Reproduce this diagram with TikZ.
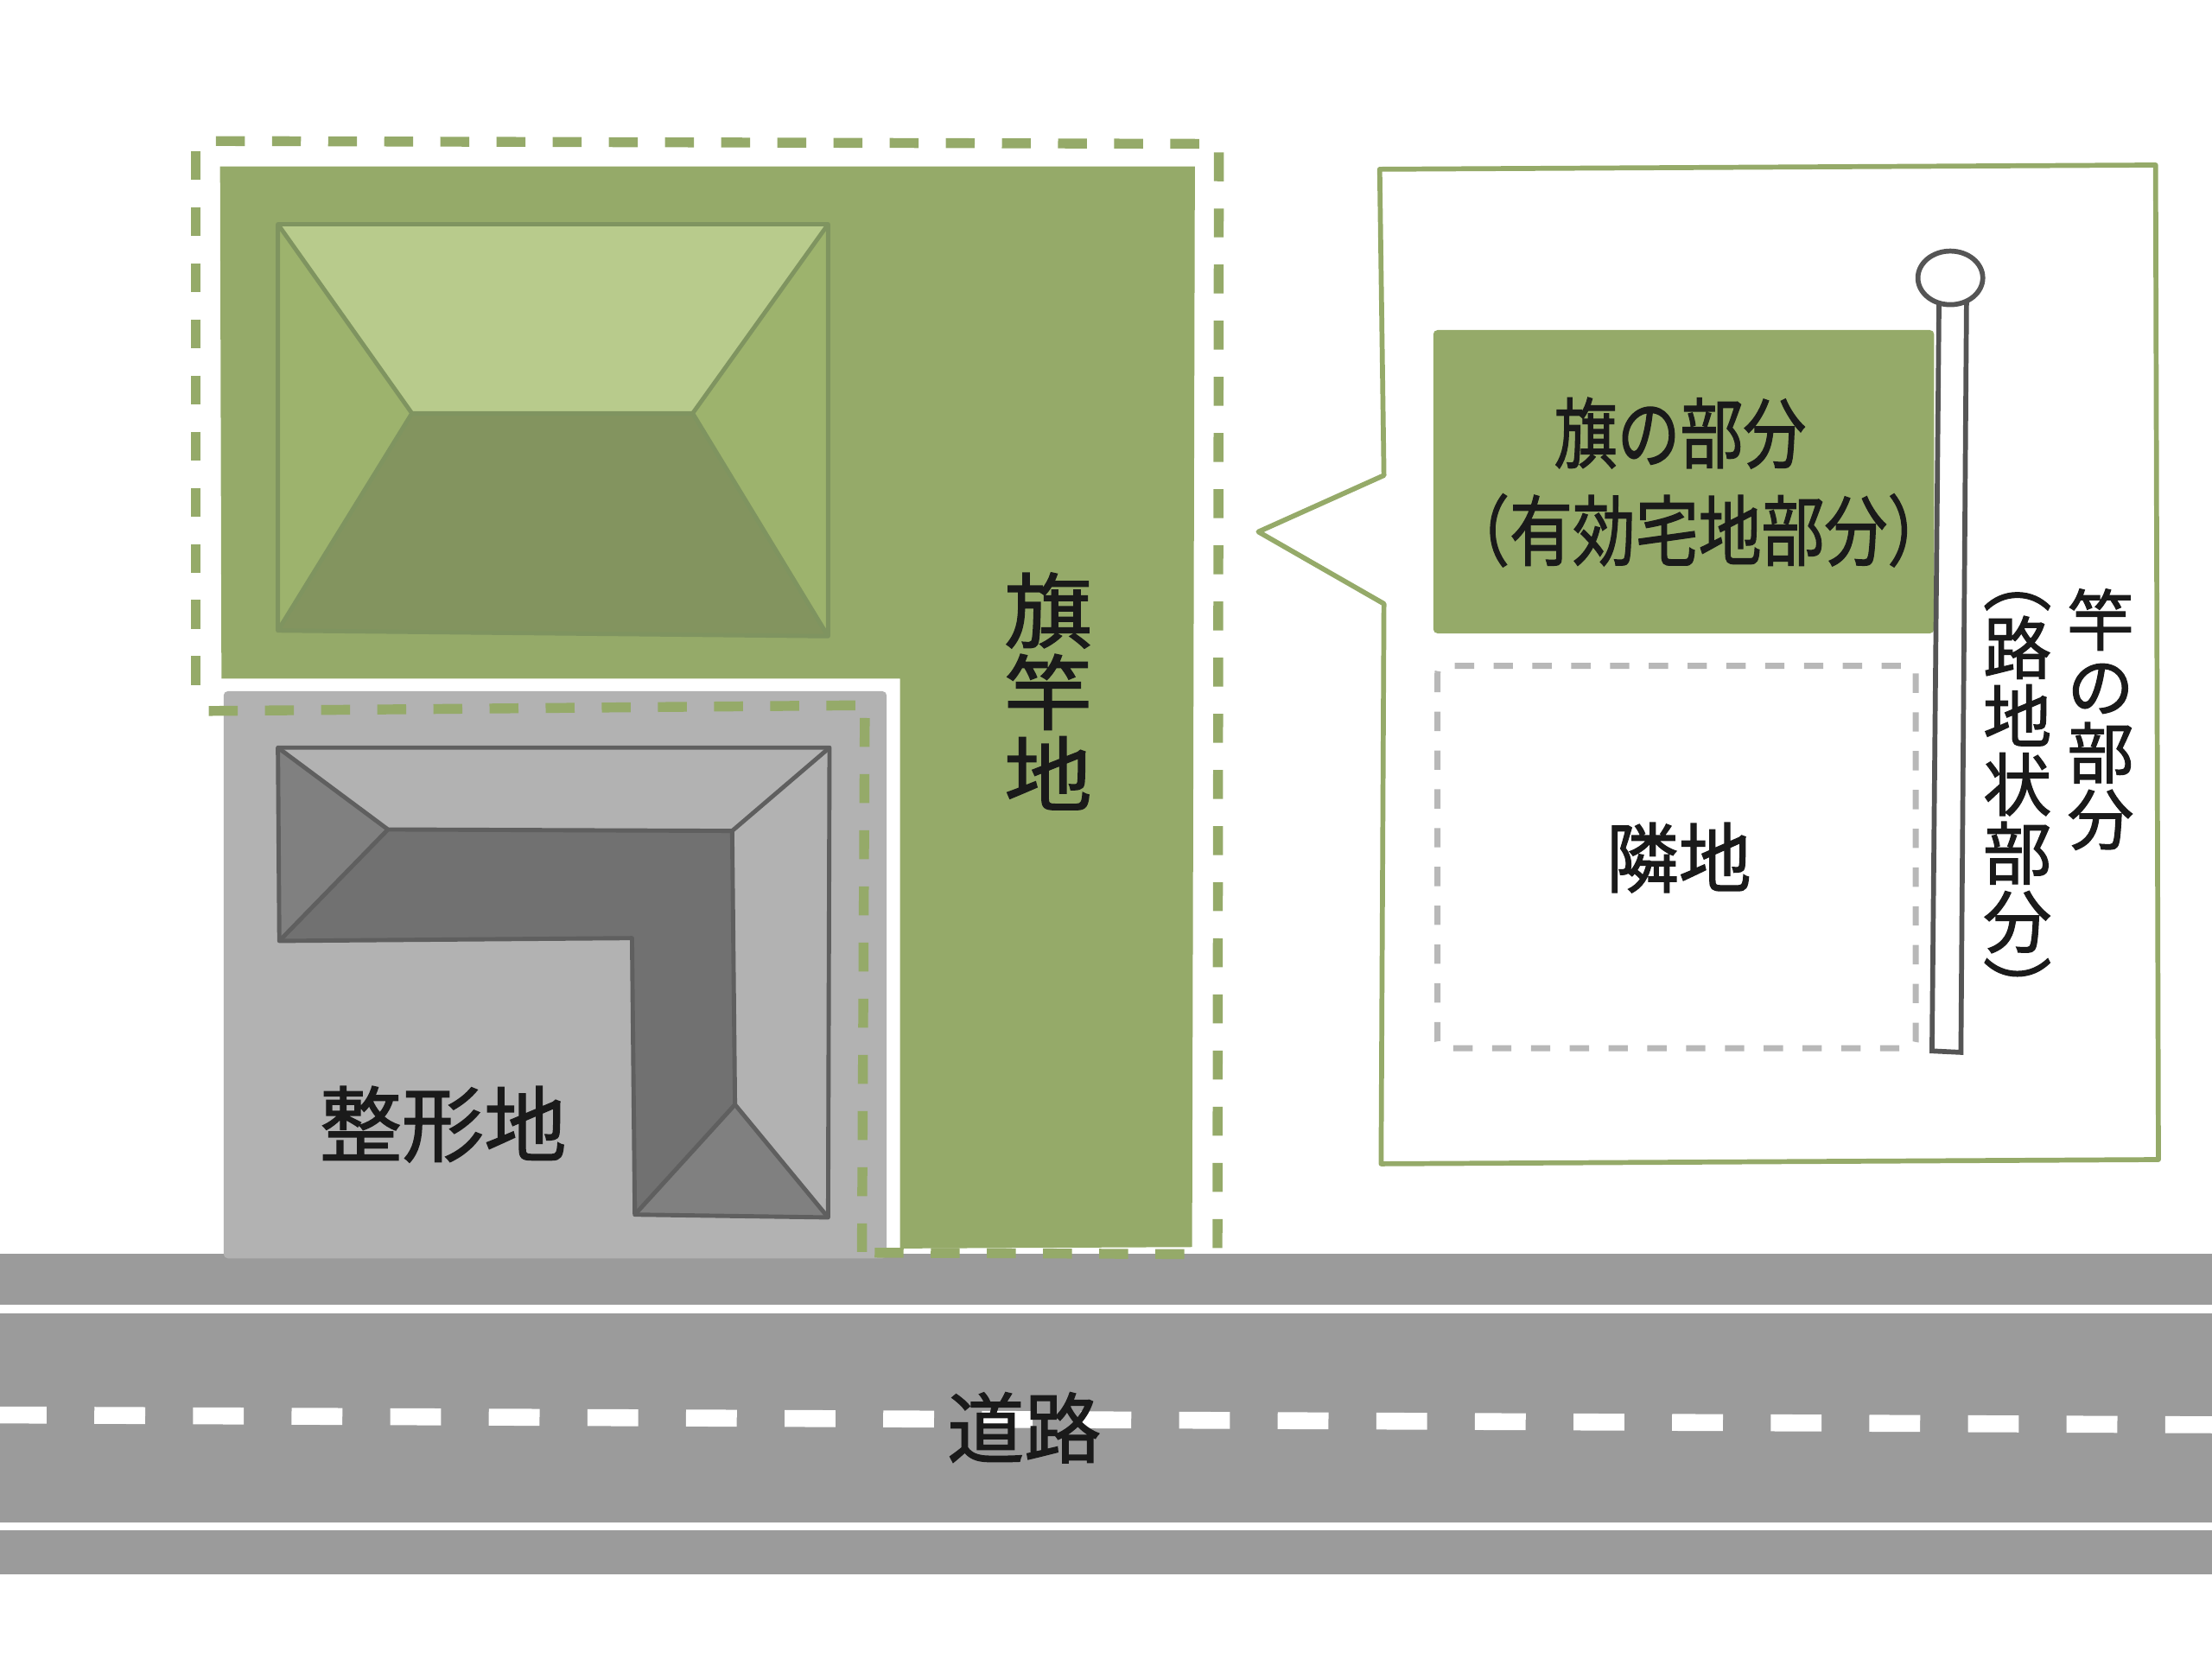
\documentclass[tikz,border=0pt]{standalone}
\usepackage{fontspec}
\newfontfamily\jpfont[FakeBold=1.5]{Noto Sans CJK JP}
\definecolor{lot_green}{HTML}{95AA69}
\definecolor{lot_grey}{HTML}{B2B2B2}
\definecolor{road_grey}{HTML}{9B9B9B}
\definecolor{roof_light}{HTML}{B8CB8C}
\definecolor{roof_side}{HTML}{9DB36D}
\definecolor{roof_dark}{HTML}{83945F}
\definecolor{roof_line}{HTML}{7F9460}
\definecolor{grey_dark}{HTML}{717171}
\definecolor{grey_hip}{HTML}{808080}
\definecolor{grey_line}{HTML}{5F5F5F}
\definecolor{pole_line}{HTML}{555555}
\definecolor{next_line}{HTML}{B8B8B8}
\definecolor{label_ink}{HTML}{1A1A1A}
\tikzset{
	lotdash/.style={lot_green, line width=.07cm, dash pattern=on .205cm off .193cm},
	greenroof/.style={roof_line, line width=.03cm, line join=round},
	greyroof/.style={grey_line, line width=.03cm, line join=round},
	label/.style={font=\jpfont\fontsize{#1}{#1}\selectfont, text=label_ink, inner sep=0pt, align=center},
}

\begin{document}
\begin{tikzpicture}
	\useasboundingbox (0,0) rectangle (15.68,11.76);

	% road
	\fill [road_grey] (0,.6) rectangle (15.68,2.87);
	\foreach \y in {2.45,.91} {
		\fill [white] (0,\y) rectangle (15.68,\y+.06);
	}
	\draw [white, line width=.12cm, dash pattern=on .36cm off .339cm] (-.03,1.73) -- (15.68,1.66);

	% lots
	\fill [lot_green] (1.56,10.58) -- (8.47,10.58) -- (8.45,2.92) -- (6.38,2.91) -- (6.38,6.95) -- (1.57,6.95) -- cycle;
	\fill [lot_grey, rounded corners=.03cm] (1.585,6.86) rectangle (6.285,2.84);
	\foreach \a/\b in {{(1.53,10.76)}/{(8.51,10.74)}, {(1.386,10.69)}/{(1.386,6.90)}, {(8.64,10.68)}/{(8.63,2.88)}, {(6.20,2.88)}/{(8.40,2.87)}, {(1.48,6.72)}/{(6.07,6.76)}, {(6.13,6.67)}/{(6.11,2.885)}} {
		\draw [lotdash] \a -- \b;
	}

	% green roof
	\coordinate (rA) at (1.97,10.17);
	\coordinate (rB) at (5.87,10.17);
	\coordinate (rC) at (5.87,7.25);
	\coordinate (rD) at (1.97,7.29);
	\coordinate (rE) at (2.92,8.83);
	\coordinate (rF) at (4.91,8.83);
	\fill [roof_side] (rA) -- (rB) -- (rC) -- (rD) -- cycle;
	\fill [roof_light] (rA) -- (rB) -- (rF) -- (rE) -- cycle;
	\fill [roof_dark] (rD) -- (rE) -- (rF) -- (rC) -- cycle;
	\draw [greenroof] (rA) -- (rB) -- (rC) -- (rD) -- cycle;
	\draw [greenroof] (rA) -- (rE) -- (rF) -- (rB);
	\draw [greenroof] (rD) -- (rE);
	\draw [greenroof] (rF) -- (rC);

	% grey roof
	\coordinate (ga) at (1.97,6.46);
	\coordinate (gb) at (5.88,6.46);
	\coordinate (gc) at (5.87,3.13);
	\coordinate (gd) at (4.50,3.15);
	\coordinate (ge) at (4.48,5.11);
	\coordinate (gf) at (1.98,5.09);
	\coordinate (gg) at (2.75,5.88);
	\coordinate (gh) at (5.19,5.87);
	\coordinate (gi) at (5.21,3.93);
	\fill [grey_dark] (gg) -- (gh) -- (gi) -- (gd) -- (ge) -- (gf) -- cycle;
	\fill [grey_hip] (ga) -- (gg) -- (gf) -- cycle;
	\fill [grey_hip] (gi) -- (gc) -- (gd) -- cycle;
	\draw [greyroof] (ga) -- (gb) -- (gc) -- (gd) -- (ge) -- (gf) -- cycle;
	\draw [greyroof] (ga) -- (gg) -- (gh) -- (gi) -- (gc);
	\draw [greyroof] (gf) -- (gg);
	\draw [greyroof] (gb) -- (gh);
	\draw [greyroof] (gi) -- (gd);

	% callout
	\draw [lot_green, line width=.035cm, line join=round] (9.78,10.56) -- (15.28,10.59) -- (15.30,3.54) -- (9.79,3.51) -- (9.81,7.48) -- (8.92,7.99) -- (9.81,8.39) -- cycle;
	\fill [lot_green, rounded corners=.03cm] (10.16,9.42) rectangle (13.71,7.27);
	\draw [next_line, line width=.043cm, dash pattern=on .137cm off .138cm, rounded corners=.05cm] (10.19,7.04) rectangle (13.58,4.33);
	\draw [pole_line, fill=white, line width=.035cm] (13.745,9.65) -- (13.695,4.31) -- (13.90,4.30) -- (13.94,9.65) -- cycle;
	\draw [pole_line, fill=white, line width=.035cm] (13.825,9.79) ellipse (.23 and .19);

	% labels
	\node [label=16.5pt, xscale=1.07, transform shape] (flaglot) at (7.43,6.86) {旗\\竿\\地};
	\node [label=16.6pt] (squarelot) at (3.14,3.79) {整形地};
	\node [label=15.5pt] (roadname) at (7.26,1.64) {道路};
	\node [label=12.7pt, yscale=1.22, transform shape] (flagpart) at (11.91,8.69) {旗の部分};
	\node [label=12.7pt, yscale=1.22, transform shape] (usablepart) at (12.04,8.00) {（有効宅地部分）};
	\node [label=14.6pt, yscale=1.05, transform shape] (nextlot) at (11.90,5.68) {隣地};
	\node [label=13.4pt] (polepart) at (14.89,6.66) {竿\\の\\部\\分};
	\node [label=13.8pt] (alleypart) at (14.30,6.06) {︵\\路\\地\\状\\部\\分\\︶};
\end{tikzpicture}
\end{document}
